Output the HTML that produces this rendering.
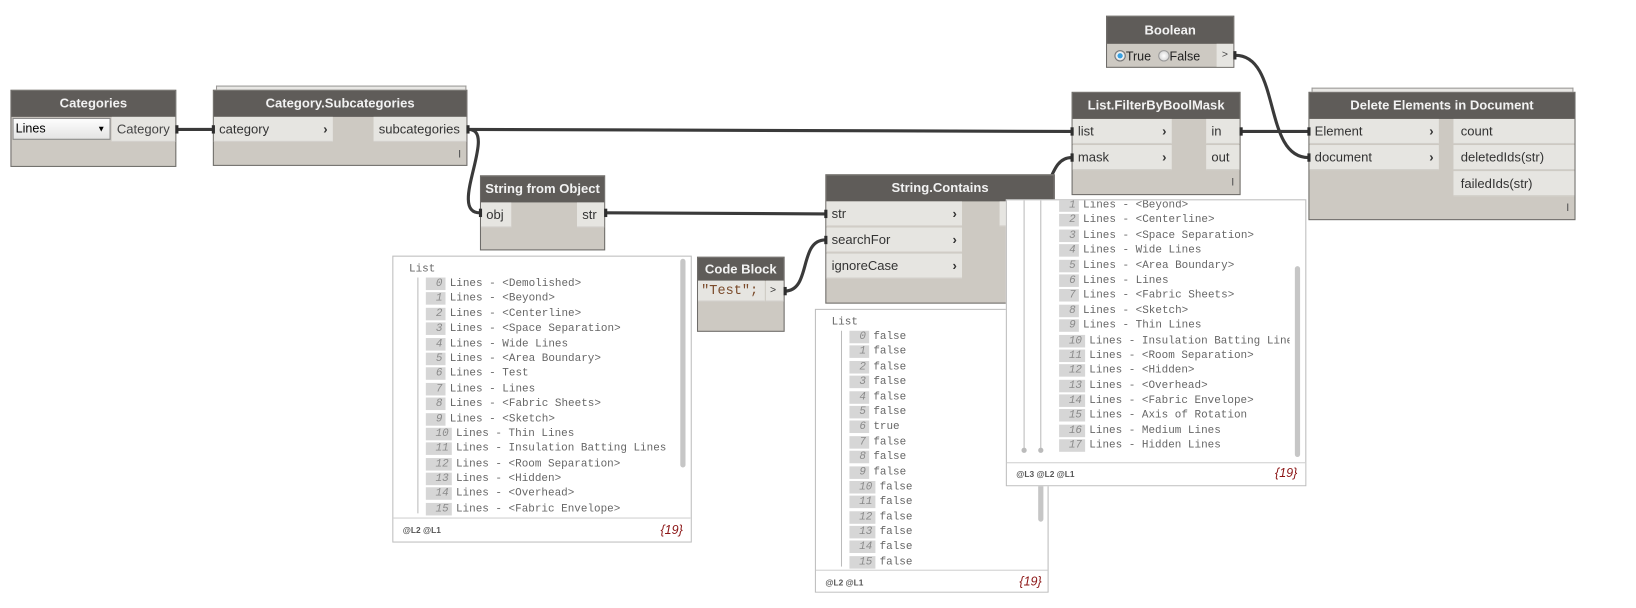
<!DOCTYPE html>
<html><head><meta charset="utf-8">
<style>
html,body{margin:0;padding:0;background:#fff;width:1636px;height:608px;overflow:hidden}
#w{position:absolute;left:0;top:0;width:1568px;height:583px;transform:scale(1.0434);transform-origin:0 0;font-family:"Liberation Sans",sans-serif}
.a{position:absolute}
.node{position:absolute;background:#cdc9c2;border:1px solid #6e6c69;box-sizing:border-box}
.hd{position:absolute;left:0;right:0;top:0;height:25px;background:#5f5c59;color:#f2f2f2;font-weight:bold;font-size:12.5px;text-align:center;line-height:25px}
.p{position:absolute;background:#e6e5e1;font-size:12.5px;color:#333;line-height:24px;height:24px;box-sizing:border-box;padding-left:5px;border-bottom:1px solid #d2cfca}
.ch{position:absolute;right:5px;top:0;font-weight:bold;color:#333}
.bar{position:absolute;font-size:11px;color:#555}
.stk{position:absolute;border:1px solid #9a9896;border-bottom:none;background:#e8e7e4;height:3px}
.panel{position:absolute;background:#fff;border:1px solid #bdbdbd;box-sizing:border-box;overflow:hidden}
.li{position:absolute;font-family:"Liberation Mono",monospace;font-size:10.5px;color:#666;line-height:14.4px;white-space:nowrap}
.li div{height:14.4px;overflow:hidden}
.ix{display:inline-block;background:#d6d6d6;color:#8a8a8a;font-style:italic;text-align:right;padding-right:3px;box-sizing:border-box;width:19px;height:12px;line-height:12px;margin-right:4px;vertical-align:top;margin-top:1px}
.ix2{width:25px}
.ft{position:absolute;font-size:8px;color:#555;font-weight:bold}
.cnt{position:absolute;font-size:12px;color:#8b1414;font-style:italic}
.sb{position:absolute;background:#c6c6c6;border-radius:3px;width:5px}
.vl{position:absolute;width:1px;background:#bbb}
</style></head><body><div id="w">

<svg class="a" style="left:0;top:0" width="1568" height="583">
<g fill="none" stroke="#3a3a3a" stroke-width="3">
<path d="M170,124 L204,124"/>
<path d="M449,124 C700,124 800,126 1027,126"/>
<path d="M449,124 C478,124 428,204 460,204"/>
<path d="M581,204 L791,205"/>
<path d="M752,279 C778,279 765,230 791,230"/>
<path d="M966,205 C1012,205 1000,151 1027,151"/>
<path d="M1190,126 L1254,126"/>
<path d="M1184,53 C1228,53 1210,151 1254,151"/>
</g>
</svg>

<div class="node" style="left:10px;top:86px;width:159px;height:74px">
<div class="hd">Categories</div>
<div class="a" style="left:1px;top:26px;width:94px;height:21px;background:linear-gradient(#fdfdfd,#e4e4e4);border:1px solid #8a8a8a;box-sizing:border-box;font-size:12px;line-height:19px;padding-left:2px;color:#000">Lines<span style="position:absolute;right:4px;font-size:8px">▼</span></div>
<div class="p" style="left:96px;top:25px;width:61px;color:#444">Category</div>
</div>

<div class="stk" style="left:207px;top:82px;width:238px"></div>
<div class="node" style="left:204px;top:86px;width:244px;height:73px">
<div class="hd">Category.Subcategories</div>
<div class="p" style="left:0;top:25px;width:114px">category<span class="ch">›</span></div>
<div class="p" style="left:153px;top:25px;width:89px">subcategories</div>
<div class="bar" style="right:5px;top:55px">I</div>
</div>

<div class="node" style="left:460px;top:168px;width:120px;height:72px">
<div class="hd">String from Object</div>
<div class="p" style="left:0;top:25px;width:29px">obj</div>
<div class="p" style="left:92px;top:25px;width:26px">str</div>
</div>

<div class="node" style="left:668px;top:246px;width:84px;height:72px">
<div class="hd" style="height:22px;line-height:22px">Code Block</div>
<div class="p" style="left:0;top:22px;width:64px;height:20px;line-height:20px;padding-left:3px;font-family:'Liberation Mono',monospace;font-size:13px;color:#7a4a2a">"Test";</div>
<div class="p" style="left:65px;top:22px;width:17px;height:20px;line-height:20px;padding-left:4px;font-size:10px">&gt;</div>
</div>

<div class="node" style="left:791px;top:167px;width:220px;height:124px">
<div class="hd">String.Contains</div>
<div class="p" style="left:0;top:25px;width:130px">str<span class="ch">›</span></div>
<div class="p" style="left:0;top:50px;width:130px">searchFor<span class="ch">›</span></div>
<div class="p" style="left:0;top:75px;width:130px">ignoreCase<span class="ch">›</span></div>
<div class="p" style="left:166px;top:25px;width:40px"></div>
</div>

<div class="node" style="left:1027px;top:88px;width:162px;height:99px">
<div class="hd">List.FilterByBoolMask</div>
<div class="p" style="left:0;top:25px;width:95px">list<span class="ch">›</span></div>
<div class="p" style="left:0;top:50px;width:95px">mask<span class="ch">›</span></div>
<div class="p" style="left:128px;top:25px;width:32px">in</div>
<div class="p" style="left:128px;top:50px;width:32px">out</div>
<div class="bar" style="right:5px;top:80px">I</div>
</div>

<div class="node" style="left:1060px;top:15px;width:123px;height:50px">
<div class="hd" style="height:26px;line-height:26px">Boolean</div>
<div class="a" style="left:7px;top:31px;font-size:12px;color:#222;white-space:nowrap"><span style="display:inline-block;width:9px;height:9px;border-radius:50%;background:radial-gradient(#3aa0e0 35%,#fff 45%,#999 100%);border:1px solid #777;vertical-align:-1px"></span>True&nbsp;&nbsp;<span style="display:inline-block;width:9px;height:9px;border-radius:50%;background:radial-gradient(#fff,#ccc);border:1px solid #999;vertical-align:-1px"></span>False</div>
<div class="a" style="left:105px;top:26px;width:16px;height:22px;background:#e6e5e1;font-size:10px;line-height:22px;text-align:center;color:#444">&gt;</div>
</div>

<div class="stk" style="left:1257px;top:84px;width:249px"></div>
<div class="node" style="left:1254px;top:88px;width:256px;height:123px">
<div class="hd">Delete Elements in Document</div>
<div class="p" style="left:0;top:25px;width:124px">Element<span class="ch">›</span></div>
<div class="p" style="left:0;top:50px;width:124px">document<span class="ch">›</span></div>
<div class="p" style="left:138px;top:25px;width:116px;padding-left:7px">count</div>
<div class="p" style="left:138px;top:50px;width:116px;padding-left:7px">deletedIds(str)</div>
<div class="p" style="left:138px;top:75px;width:116px;padding-left:7px">failedIds(str)</div>
<div class="bar" style="right:5px;top:104px">I</div>
</div>

<svg class="a" style="left:0;top:0" width="1568" height="583">
<g fill="#2e2e2e">
<rect x="168" y="120" width="3" height="8"/><rect x="203" y="120" width="3" height="8"/>
<rect x="447" y="120" width="3" height="8"/><rect x="459" y="200" width="3" height="8"/>
<rect x="579" y="200" width="3" height="8"/><rect x="790" y="201" width="3" height="8"/>
<rect x="790" y="226" width="3" height="8"/><rect x="751" y="275" width="3" height="8"/>
<rect x="1026" y="122" width="3" height="8"/><rect x="1026" y="147" width="3" height="8"/>
<rect x="1188" y="122" width="3" height="8"/><rect x="1253" y="122" width="3" height="8"/>
<rect x="1253" y="147" width="3" height="8"/><rect x="1182" y="49" width="3" height="8"/>
</g></svg>

<div class="panel" style="left:376px;top:245px;width:287px;height:275px">
<div class="li" style="left:15px;top:5px">List</div>
<div class="vl" style="left:23px;top:20px;height:226px"></div>
<div class="li" style="left:31px;top:19px">
<div><span class="ix">0</span>Lines - &lt;Demolished&gt;</div>
<div><span class="ix">1</span>Lines - &lt;Beyond&gt;</div>
<div><span class="ix">2</span>Lines - &lt;Centerline&gt;</div>
<div><span class="ix">3</span>Lines - &lt;Space Separation&gt;</div>
<div><span class="ix">4</span>Lines - Wide Lines</div>
<div><span class="ix">5</span>Lines - &lt;Area Boundary&gt;</div>
<div><span class="ix">6</span>Lines - Test</div>
<div><span class="ix">7</span>Lines - Lines</div>
<div><span class="ix">8</span>Lines - &lt;Fabric Sheets&gt;</div>
<div><span class="ix">9</span>Lines - &lt;Sketch&gt;</div>
<div><span class="ix ix2">10</span>Lines - Thin Lines</div>
<div><span class="ix ix2">11</span>Lines - Insulation Batting Lines</div>
<div><span class="ix ix2">12</span>Lines - &lt;Room Separation&gt;</div>
<div><span class="ix ix2">13</span>Lines - &lt;Hidden&gt;</div>
<div><span class="ix ix2">14</span>Lines - &lt;Overhead&gt;</div>
<div><span class="ix ix2">15</span>Lines - &lt;Fabric Envelope&gt;</div>
</div>
<div class="sb" style="left:275px;top:2px;height:200px"></div>
<div class="a" style="left:0;right:0;top:250px;height:24px;background:#fff;border-top:1px solid #d0d0d0"></div>
<div class="ft" style="left:9px;top:258px">@L2 @L1</div>
<div class="cnt" style="left:256px;top:255px">{19}</div>
</div>

<div class="panel" style="left:781px;top:296px;width:224px;height:272px">
<div class="li" style="left:15px;top:5px">List</div>
<div class="vl" style="left:24px;top:20px;height:226px"></div>
<div class="li" style="left:32px;top:19px">
<div><span class="ix">0</span>false</div>
<div><span class="ix">1</span>false</div>
<div><span class="ix">2</span>false</div>
<div><span class="ix">3</span>false</div>
<div><span class="ix">4</span>false</div>
<div><span class="ix">5</span>false</div>
<div><span class="ix">6</span>true</div>
<div><span class="ix">7</span>false</div>
<div><span class="ix">8</span>false</div>
<div><span class="ix">9</span>false</div>
<div><span class="ix ix2">10</span>false</div>
<div><span class="ix ix2">11</span>false</div>
<div><span class="ix ix2">12</span>false</div>
<div><span class="ix ix2">13</span>false</div>
<div><span class="ix ix2">14</span>false</div>
<div><span class="ix ix2">15</span>false</div>
</div>
<div class="sb" style="left:213px;top:140px;height:63px"></div>
<div class="a" style="left:0;right:0;top:249px;height:23px;background:#fff;border-top:1px solid #d0d0d0"></div>
<div class="ft" style="left:9px;top:257px">@L2 @L1</div>
<div class="cnt" style="left:195px;top:253px">{19}</div>
</div>

<div class="panel" style="left:964px;top:191px;width:288px;height:275px">
<div class="vl" style="left:16px;top:0;height:238px"></div>
<div class="vl" style="left:32px;top:0;height:238px"></div>
<div class="a" style="left:14px;top:237px;width:5px;height:5px;border-radius:50%;background:#bbb"></div>
<div class="a" style="left:30px;top:237px;width:5px;height:5px;border-radius:50%;background:#bbb"></div>
<div class="li" style="left:50px;top:-2px;width:221px;overflow:hidden">
<div><span class="ix">1</span>Lines - &lt;Beyond&gt;</div>
<div><span class="ix">2</span>Lines - &lt;Centerline&gt;</div>
<div><span class="ix">3</span>Lines - &lt;Space Separation&gt;</div>
<div><span class="ix">4</span>Lines - Wide Lines</div>
<div><span class="ix">5</span>Lines - &lt;Area Boundary&gt;</div>
<div><span class="ix">6</span>Lines - Lines</div>
<div><span class="ix">7</span>Lines - &lt;Fabric Sheets&gt;</div>
<div><span class="ix">8</span>Lines - &lt;Sketch&gt;</div>
<div><span class="ix">9</span>Lines - Thin Lines</div>
<div><span class="ix ix2">10</span>Lines - Insulation Batting Lines</div>
<div><span class="ix ix2">11</span>Lines - &lt;Room Separation&gt;</div>
<div><span class="ix ix2">12</span>Lines - &lt;Hidden&gt;</div>
<div><span class="ix ix2">13</span>Lines - &lt;Overhead&gt;</div>
<div><span class="ix ix2">14</span>Lines - &lt;Fabric Envelope&gt;</div>
<div><span class="ix ix2">15</span>Lines - Axis of Rotation</div>
<div><span class="ix ix2">16</span>Lines - Medium Lines</div>
<div><span class="ix ix2">17</span>Lines - Hidden Lines</div>
</div>
<div class="sb" style="left:276px;top:63px;height:183px"></div>
<div class="a" style="left:0;right:0;top:251px;height:24px;background:#fff;border-top:1px solid #d0d0d0"></div>
<div class="ft" style="left:9px;top:258px">@L3 @L2 @L1</div>
<div class="cnt" style="left:257px;top:254px">{19}</div>
</div>

</div></body></html>
